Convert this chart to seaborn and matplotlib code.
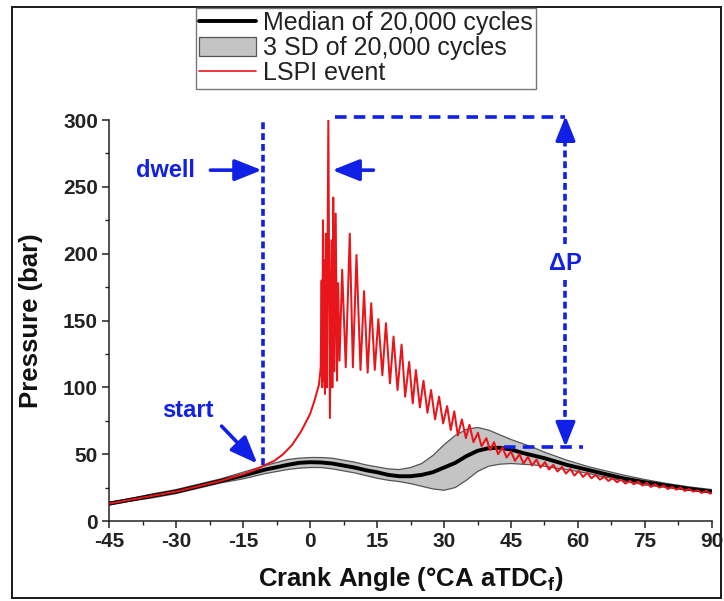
import matplotlib
matplotlib.use("Agg")
import matplotlib.pyplot as plt
import seaborn as sns
import pandas as pd
from matplotlib.patches import Patch, Rectangle
from matplotlib.lines import Line2D

# ---------------- data ----------------
band_angle = [-45, -40, -35, -30, -25, -20, -15, -10,
              -5, -2.5, 0, 2.5, 5, 7.5, 10, 12.5, 15, 17.5,
              20, 22.5, 25, 27.5, 30, 32.5, 35, 37.5, 40, 42.5,
              45, 47.5, 50, 52.5, 55, 57.5, 60, 62.5, 65, 67.5,
              70, 75, 80, 85, 90]
median_p = [13, 16, 19, 22, 26, 30, 34, 38.5,
            42, 43.5, 44, 43.8, 43, 41.5, 40, 38, 36.5, 34.5,
            33.5, 33.5, 34.5, 36.5, 40, 43.5, 48.5, 52.5, 54.5, 54.8,
            53.5, 51, 49, 47, 44.5, 42, 40, 38, 36, 34,
            32, 29, 26.5, 24, 22]
sd_upper = [14, 17, 20.5, 23.5, 27.5, 31.5, 36.5, 41.5,
            46, 47, 47.5, 47.5, 47, 45.5, 44, 42, 40.5, 39,
            38.5, 40, 43, 49, 57, 64, 68.5, 70, 68, 64.5,
            61, 58, 55, 51.5, 48.5, 45.5, 43, 40.5, 38.5, 36.5,
            34.5, 31, 28, 25.5, 23.5]
sd_lower = [12, 15, 17.5, 20.5, 24.5, 28.5, 31.5, 35.5,
            38.5, 39.5, 40, 40, 39, 37.5, 36, 34, 32, 30.5,
            29.5, 28, 26, 24, 23, 25, 30.5, 37, 41, 42.5,
            43, 42.5, 42, 41, 39.5, 38.5, 37, 35.5, 33.5, 32,
            30, 27, 25, 23, 21]

lspi_angle = [-45, -40, -35, -30, -25, -20, -15, -12.5, -10, -8, -6, -4, -2, 0, 1, 2,
              2.4, 2.6, 2.75, 2.9, 3.05, 3.2, 3.35, 3.55, 3.75, 4.1,
              4.45, 4.8, 5.0, 5.2, 5.45, 5.75, 6.05, 6.3, 6.6, 7.2,
              8.0, 8.9, 9.6, 10.4, 11.3, 12.1, 12.9, 13.7, 14.5, 15.3,
              16.2, 17.0, 17.9, 18.7, 19.6, 20.5, 21.3, 22.2, 23.0, 23.7,
              24.6, 25.4, 26.3, 27.1, 28.0, 28.9, 29.8, 30.7, 31.5, 32.3,
              33.1, 34.0, 34.9, 35.7, 36.6, 37.6, 38.4, 39.5, 40.3, 41.2,
              42.1, 43.1, 44.0, 45.0, 45.9, 46.9, 47.8, 48.8, 49.7, 50.7,
              51.6, 52.6, 53.5, 54.5, 55.4, 56.4, 57.3, 58.3, 59.2, 60.2,
              61.1, 62.1, 63.0, 64.0, 64.9, 65.9, 66.8, 67.8, 68.7, 69.7,
              70.6, 71.6, 72.5, 73.5, 74.4, 75.4, 76.3, 77.3, 78.2, 79.2,
              80.1, 81.1, 82.0, 83.0, 83.9, 84.9, 85.8, 86.8, 87.7, 88.7, 89.6, 90.0]
lspi_pressure = [13, 16, 19, 22, 26, 30, 35, 38, 42, 45, 50, 57, 67, 80, 90, 102,
                 115, 180, 100, 225, 105, 195, 95, 215, 100, 300,
                 77, 210, 100, 242, 112, 230, 105, 178, 120, 188,
                 115, 215, 115, 199, 113, 172, 111, 163, 113, 151,
                 109, 148, 103, 138, 98, 132, 93, 119, 88, 113,
                 85, 105, 81, 98, 76, 93, 73, 86, 68, 82,
                 64, 76, 62, 72, 59, 66, 56, 62, 53, 59,
                 50, 55, 47.5, 52, 45, 50, 43, 48, 41.5, 46,
                 40, 44, 38.5, 42, 37, 40.5, 35.5, 39, 34, 37.5,
                 33, 36, 32, 34.5, 31, 33, 30, 32, 29, 31,
                 28, 30, 27.5, 29.5, 26.5, 28.5, 25.5, 27.5, 25, 26.5,
                 24, 25.5, 23.5, 25, 22.5, 24, 22, 23, 21, 22.5, 20.5, 21]

x_ticks = [-45, -30, -15, 0, 15, 30, 45, 60, 75, 90]
y_ticks = [0, 50, 100, 150, 200, 250, 300]
legend_labels = ["Median of 20,000 cycles", "3 SD of 20,000 cycles", "LSPI event"]

# annotation anchors (data coordinates)
dwell_x = -10.5
spike_x = 5.6
dp_x = 57.2
dp_top = 302
dp_bottom = 55

# ---------------- style ----------------
sns.set_theme(style="ticks")
plt.rcParams["font.family"] = ["Liberation Sans", "DejaVu Sans"]
plt.rcParams["axes.unicode_minus"] = False
plt.rcParams["mathtext.fontset"] = "custom"
plt.rcParams["mathtext.rm"] = "Liberation Sans"
plt.rcParams["mathtext.bf"] = "Liberation Sans:bold"
plt.rcParams["mathtext.it"] = "Liberation Sans:italic"

BLUE = "#1020e6"
RED = "#e8161b"

fig = plt.figure(figsize=(7.24, 6.01), dpi=100)
ax = fig.add_axes([0.1506, 0.1331, 0.9834 - 0.1506, 0.8003 - 0.1331])

band_df = pd.DataFrame({"angle": band_angle, "median": median_p,
                        "upper": sd_upper, "lower": sd_lower})
lspi_df = pd.DataFrame({"angle": lspi_angle, "pressure": lspi_pressure})

ax.fill_between(band_df["angle"], band_df["lower"], band_df["upper"],
                facecolor="#c4c4c4", edgecolor="none", zorder=1)
sns.lineplot(data=band_df, x="angle", y="upper", ax=ax, color="#555555",
             lw=0.9, sort=False, estimator=None, zorder=2)
sns.lineplot(data=band_df, x="angle", y="lower", ax=ax, color="#555555",
             lw=0.9, sort=False, estimator=None, zorder=2)
sns.lineplot(data=band_df, x="angle", y="median", ax=ax, color="black",
             lw=2.8, sort=False, estimator=None, zorder=3)
sns.lineplot(data=lspi_df, x="angle", y="pressure", ax=ax, color=RED,
             lw=1.45, sort=False, estimator=None, zorder=4)

ax.set_xlim(-45, 90)
ax.set_ylim(0, 300)
ax.set_xticks(x_ticks)
ax.set_yticks(y_ticks)
ax.set_xticks([-37.5, -22.5, -7.5, 7.5, 22.5, 37.5, 52.5, 67.5, 82.5], minor=True)
ax.set_yticks([25, 75, 125, 175, 225, 275], minor=True)
ax.set_xticklabels([str(v) for v in x_ticks])
ax.set_yticklabels([str(v) for v in y_ticks])
for lab in ax.get_xticklabels() + ax.get_yticklabels():
    lab.set_fontweight("bold")
ax.tick_params(axis="both", which="major", direction="out", length=5, width=1.1,
               labelsize=15, colors="#222222", pad=3)
ax.tick_params(axis="both", which="minor", direction="out", length=3, width=1.0,
               colors="#222222")
for s in ["top", "right"]:
    ax.spines[s].set_visible(False)
for s in ["left", "bottom"]:
    ax.spines[s].set_linewidth(1.1)
    ax.spines[s].set_color("#222222")

ax.set_xlabel(r"Crank Angle (°CA aTDC$_{\mathbf{f}}$)", fontsize=18.5,
              fontweight="bold", labelpad=10, color="#111111")
ax.set_ylabel("Pressure (bar)", fontsize=18.5, fontweight="bold",
              labelpad=14, color="#111111")

# ---------------- annotations ----------------
dash_short = (0, (1.9, 1.1))
dash_long = (0, (3.2, 2.0))
ax.plot([dwell_x, dwell_x], [42, 300], color=BLUE, lw=2.6, ls=dash_short,
        clip_on=False, zorder=5)
ax.plot([spike_x, dp_x], [dp_top, dp_top], color=BLUE, lw=2.6, ls=dash_long,
        clip_on=False, zorder=5)
ax.plot([43.5, 61.2], [dp_bottom, dp_bottom], color=BLUE, lw=2.6, ls=dash_long,
        clip_on=False, zorder=5)
ax.plot([dp_x, dp_x], [207, 291], color=BLUE, lw=2.6, ls=dash_short,
        clip_on=False, zorder=5)
ax.plot([dp_x, dp_x], [180, 66], color=BLUE, lw=2.6, ls=dash_short,
        clip_on=False, zorder=5)

head = "-|>,head_length=0.75,head_width=0.3"
ax.annotate("", xy=(dp_x, dp_top + 1), xytext=(dp_x, 288),
            arrowprops=dict(arrowstyle=head, color=BLUE, lw=2.4,
                            mutation_scale=20, shrinkA=0, shrinkB=0),
            annotation_clip=False, zorder=6)
ax.annotate("", xy=(dp_x, dp_bottom + 0.5), xytext=(dp_x, 70),
            arrowprops=dict(arrowstyle=head, color=BLUE, lw=2.4,
                            mutation_scale=20, shrinkA=0, shrinkB=0),
            annotation_clip=False, zorder=6)
ax.text(dp_x, 193, "ΔP", color=BLUE, fontsize=17, fontweight="bold",
        ha="center", va="center", zorder=6)

ax.annotate("", xy=(dwell_x - 0.3, 262.5), xytext=(-22.3, 262.5),
            arrowprops=dict(arrowstyle=head, color=BLUE, lw=2.6,
                            mutation_scale=22, shrinkA=0, shrinkB=0), zorder=6)
ax.text(-32.4, 262.5, "dwell", color=BLUE, fontsize=17, fontweight="bold",
        ha="center", va="center", zorder=6)

ax.annotate("", xy=(5.0, 262.5), xytext=(14.2, 262.5),
            arrowprops=dict(arrowstyle=head, color=BLUE, lw=2.6,
                            mutation_scale=22, shrinkA=0, shrinkB=0), zorder=6)

ax.annotate("", xy=(-11.8, 43), xytext=(-19.8, 71),
            arrowprops=dict(arrowstyle=head, color=BLUE, lw=2.6,
                            mutation_scale=22, shrinkA=0, shrinkB=0), zorder=6)
ax.text(-27.3, 82.5, "start", color=BLUE, fontsize=17, fontweight="bold",
        ha="center", va="center", zorder=6)

# ---------------- legend ----------------
handles = [Line2D([0], [0], color="black", lw=2.8),
           Patch(facecolor="#c4c4c4", edgecolor="#555555", lw=0.9),
           Line2D([0], [0], color=RED, lw=1.2)]
leg = fig.legend(handles, legend_labels, loc="upper left",
                 bbox_to_anchor=(196 / 724, 1 - 8 / 601),
                 bbox_transform=fig.transFigure, borderaxespad=0,
                 fontsize=18, frameon=True, fancybox=False, shadow=False,
                 framealpha=1, edgecolor="#777777", handlelength=2.3,
                 handleheight=0.8, handletextpad=0.25, borderpad=0.12,
                 labelspacing=0.05)
leg.get_frame().set_linewidth(1.0)
for t in leg.get_texts():
    t.set_color("#222222")

# outer frame
fig.patches.append(Rectangle((12 / 724, 1 - 598 / 601), (721 - 12) / 724,
                             (598 - 7) / 601, transform=fig.transFigure,
                             fill=False, edgecolor="#1a1a1a", lw=1.4, zorder=0))

fig.savefig("out.png", dpi=100)
